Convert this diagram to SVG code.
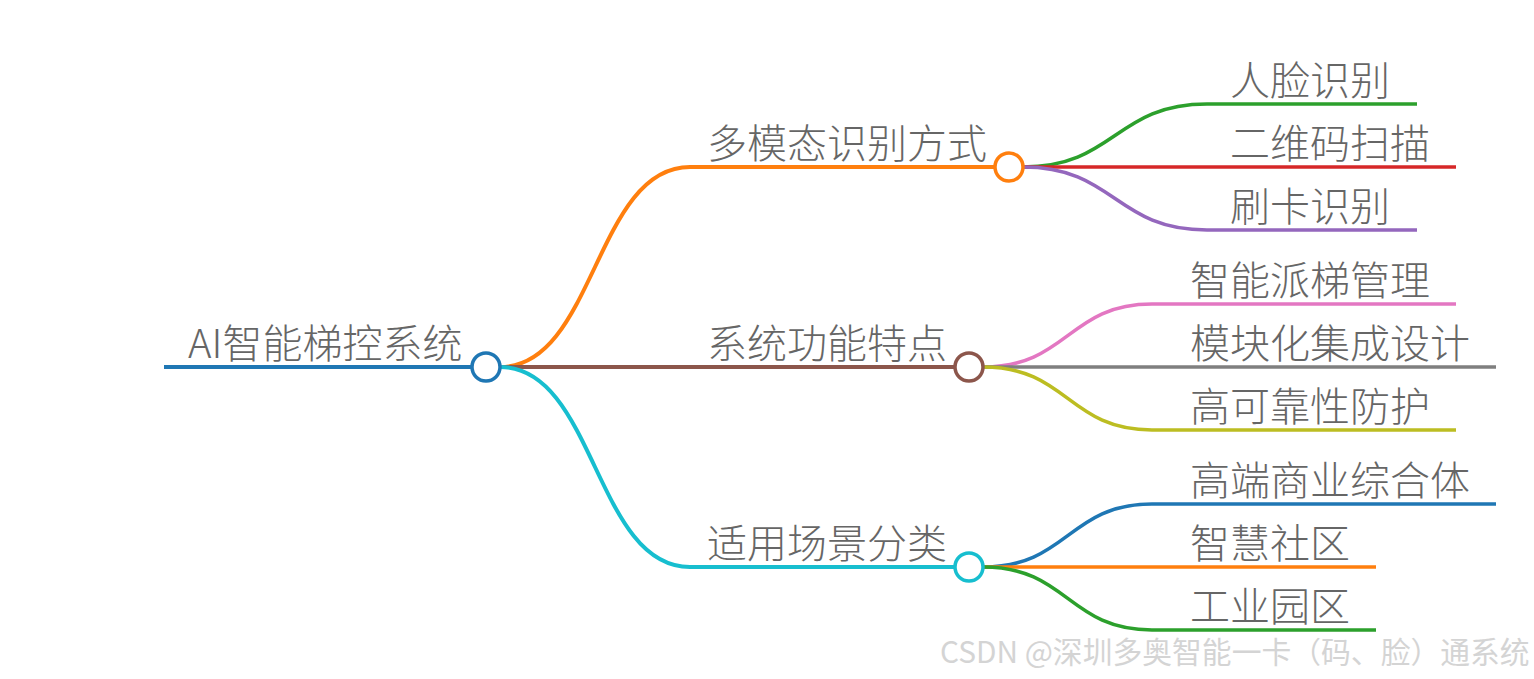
<svg xmlns="http://www.w3.org/2000/svg" width="1534" height="679" viewBox="0 0 1534 679">
<style>
text{font-family:"Noto Sans CJK SC","Liberation Sans",sans-serif;font-weight:300;fill:#666;font-size:40px}
.l1{fill:none;stroke-width:4;stroke-linecap:butt}
.l2{fill:none;stroke-width:3.5}
.c{fill:#fff;stroke-width:3.5}
.wm{font-size:29.8px;fill:#d4d4d4;font-weight:400}
</style>
<rect width="1534" height="679" fill="#fff"/>
<g id="connectors">
<path class="l1" stroke="#1f77b4" d="M164,367 H472"/>
<path class="l1" stroke="#ff7f0e" d="M500,367 C595,367 595,167 690,167 H995"/>
<path class="l1" stroke="#8c564b" d="M500,367 H955"/>
<path class="l1" stroke="#17becf" d="M500,367 C595,367 595,567 690,567 H955"/>
<path class="l2" stroke="#2ca02c" d="M1023,167 C1115,167 1115,104 1207,104 H1417"/>
<path class="l2" stroke="#d62728" d="M1023,167 H1456"/>
<path class="l2" stroke="#9467bd" d="M1023,167 C1115,167 1115,230 1207,230 H1417"/>
<path class="l2" stroke="#e377c2" d="M983,367 C1068,367 1068,304 1152,304 H1456"/>
<path class="l2" stroke="#7f7f7f" d="M983,367 H1496"/>
<path class="l2" stroke="#bcbd22" d="M983,367 C1068,367 1068,430 1152,430 H1456"/>
<path class="l2" stroke="#1f77b4" d="M983,567 C1068,567 1068,504 1152,504 H1496"/>
<path class="l2" stroke="#ff7f0e" d="M983,567 H1376"/>
<path class="l2" stroke="#2ca02c" d="M983,567 C1068,567 1068,630 1152,630 H1376"/>
</g>
<g id="root"><text x="188" y="358">AI智能梯控系统</text><circle class="c" stroke="#1f77b4" cx="486" cy="367" r="14"/></g>
<g id="n1"><text x="707" y="158">多模态识别方式</text><circle class="c" stroke="#ff7f0e" cx="1009" cy="167" r="14"/></g>
<g id="n2"><text x="707" y="358">系统功能特点</text><circle class="c" stroke="#8c564b" cx="969" cy="367" r="14"/></g>
<g id="n3"><text x="707" y="558">适用场景分类</text><circle class="c" stroke="#17becf" cx="969" cy="567" r="14"/></g>
<g id="n1a"><text x="1230" y="95">人脸识别</text></g>
<g id="n1b"><text x="1230" y="158">二维码扫描</text></g>
<g id="n1c"><text x="1230" y="221">刷卡识别</text></g>
<g id="n2a"><text x="1190" y="295">智能派梯管理</text></g>
<g id="n2b"><text x="1190" y="358">模块化集成设计</text></g>
<g id="n2c"><text x="1190" y="421">高可靠性防护</text></g>
<g id="n3a"><text x="1190" y="495">高端商业综合体</text></g>
<g id="n3b"><text x="1190" y="558">智慧社区</text></g>
<g id="n3c"><text x="1190" y="621">工业园区</text></g>
<text class="wm" x="940" y="663">CSDN @深圳多奥智能一卡（码、脸）通系统</text>
</svg>
